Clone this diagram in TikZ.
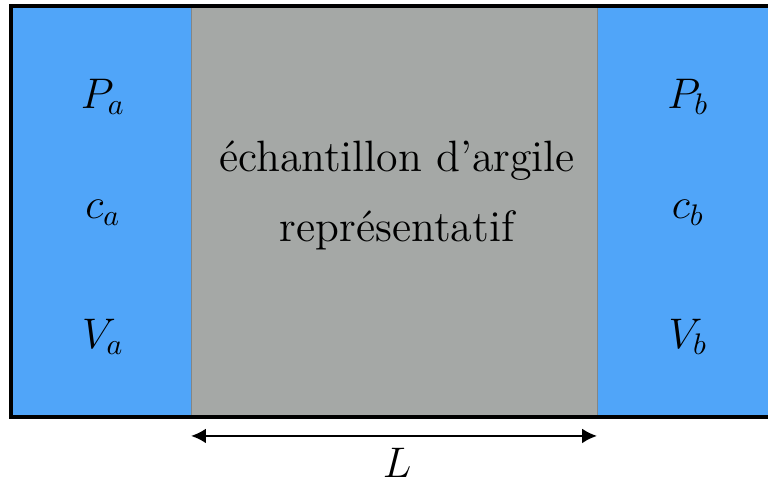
\documentclass[tikz,border=0pt]{standalone}
\usepackage{amsmath,amssymb}
\usepackage{tikz}
\usetikzlibrary{positioning,calc,arrows.meta}
\definecolor{reservoir}{RGB}{80,165,249}
\definecolor{argile}{RGB}{165,168,166}
\tikzset{
  resv/.style   = {fill=reservoir, draw=none},
  ech/.style    = {fill=argile, draw=argile!80!black, line width=0.3pt},
  cadre/.style  = {draw=black, line width=1.6pt},
  lbl/.style    = {font=\Large, inner sep=1pt},
  dim/.style    = {line width=0.8pt, {Latex[length=5pt,width=5pt]}-{Latex[length=5pt,width=5pt]}},
}
\begin{document}
\begin{tikzpicture}
  \clip (0,0) rectangle (9.078,5.709);
  \useasboundingbox (0,0) rectangle (9.078,5.709);
  % reservoirs and sample
  \fill[resv] (0.13,0.78) rectangle (9.3,5.638);
  \filldraw[ech] (2.258,0.78) rectangle (7.057,5.638);
  \draw[cadre] (9.4,0.78) -- (0.13,0.78) -- (0.13,5.638) -- (9.4,5.638);
  % reservoir a
  \node[lbl] (Pa) at (1.217,4.563) {$P_a$};
  \node[lbl] (ca) at (1.217,3.192) {$c_a$};
  \node[lbl] (Va) at (1.217,1.726) {$V_a$};
  % reservoir b
  \node[lbl] (Pb) at (8.132,4.563) {$P_b$};
  \node[lbl] (cb) at (8.132,3.192) {$c_b$};
  \node[lbl] (Vb) at (8.132,1.726) {$V_b$};
  % sample
  \node[lbl, align=center, scale=1.025] (txt) at (4.693,3.40)
    {échantillon d'argile\\[5pt]représentatif};
  % length
  \coordinate (l0) at (2.258,0.556);
  \coordinate (l1) at (7.057,0.556);
  \draw[dim] (l0) -- (l1);
  \node[lbl] (L) at (4.693,0.236) {$L$};
\end{tikzpicture}
\end{document}
